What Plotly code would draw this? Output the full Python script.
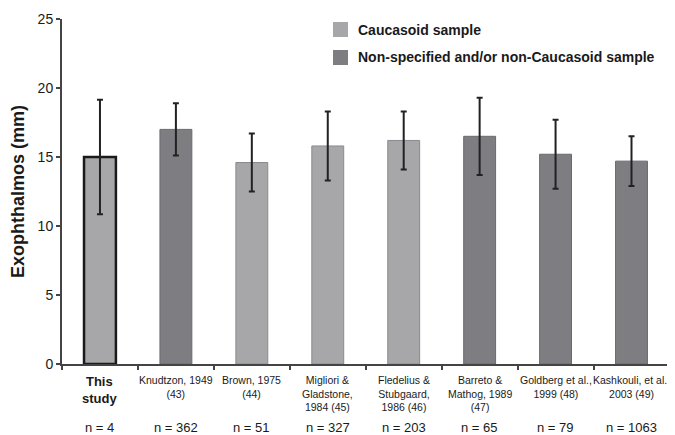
import plotly.graph_objects as go

categories = ["This study", "Knudtzon, 1949 (43)", "Brown, 1975 (44)",
              "Migliori & Gladstone, 1984 (45)", "Fledelius & Stubgaard, 1986 (46)",
              "Barreto & Mathog, 1989 (47)", "Goldberg et al., 1999 (48)",
              "Kashkouli, et al., 2003 (49)"]
tick_labels = ["<b>This<br>study</b>", "Knudtzon, 1949<br>(43)", "Brown, 1975<br>(44)",
               "Migliori &<br>Gladstone,<br>1984 (45)", "Fledelius &<br>Stubgaard,<br>1986 (46)",
               "Barreto &<br>Mathog, 1989<br>(47)", "Goldberg et al.,<br>1999 (48)",
               "Kashkouli, et al.,<br>2003 (49)"]
n_labels = ["n = 4", "n = 362", "n = 51", "n = 327", "n = 203", "n = 65", "n = 79", "n = 1063"]
means = [15.0, 17.0, 14.6, 15.8, 16.2, 16.5, 15.2, 14.7]
sds = [4.15, 1.9, 2.1, 2.5, 2.1, 2.8, 2.5, 1.8]
groups = ["Caucasoid", "Other", "Caucasoid", "Caucasoid", "Caucasoid", "Other", "Other", "Other"]
legend_labels = ["Caucasoid sample", "Non-specified and/or non-Caucasoid sample"]

LIGHT = "#a7a7aa"
DARK = "#7e7e82"
colors = [LIGHT if g == "Caucasoid" else DARK for g in groups]
line_colors = ["#1a1a1a"] + ["#8a8a8e" if g == "Caucasoid" else "#6a6a6e" for g in groups[1:]]
line_widths = [2.5] + [1] * (len(categories) - 1)

fig = go.Figure()
fig.add_trace(go.Bar(
    x=categories, y=means,
    marker=dict(color=colors, line=dict(color=line_colors, width=line_widths)),
    error_y=dict(type="data", array=sds, visible=True, color="#222222", thickness=2, width=3),
    showlegend=False,
))

FONT = "Liberation Sans, Arial, sans-serif"

# page has an 8px body margin; figure is offset by (8, 8)
OFF = 8
PL, PT, PW, PH = 62, 19, 610, 345  # plot area in page pixels

annotations = []
for i, (c, t, n) in enumerate(zip(categories, tick_labels, n_labels)):
    annotations.append(dict(
        x=c, xref="x", y=0, yref="paper", yshift=-8, yanchor="top", xanchor="center",
        text=t, showarrow=False,
        font=dict(family=FONT, size=13 if i == 0 else 10.5, color="#1a1a1a"),
    ))
    annotations.append(dict(
        x=c, xref="x", y=0, yref="paper", yshift=-63, yanchor="middle", xanchor="center",
        text=n, showarrow=False,
        font=dict(family=FONT, size=13, color="#1a1a1a"),
    ))

# legend
shapes = []
leg_y = [29.5, 57.5]
leg_cols = [LIGHT, DARK]
for lab, yy, col in zip(legend_labels, leg_y, leg_cols):
    shapes.append(dict(type="rect", xref="paper", yref="paper",
                       x0=(333 - PL) / PW, x1=(348 - PL) / PW,
                       y0=(PT + PH - yy - 7.5) / PH, y1=(PT + PH - yy + 7.5) / PH,
                       fillcolor=col, line=dict(width=0)))
    annotations.append(dict(x=(356 - PL) / PW, xref="paper", y=(PT + PH - yy) / PH, yref="paper",
                            xanchor="left", yanchor="middle", text="<b>" + lab + "</b>",
                            showarrow=False, font=dict(family=FONT, size=14, color="#1a1a1a")))

fig.update_layout(
    width=675 - OFF, height=435 - OFF,
    margin=dict(l=PL - OFF, r=675 - PL - PW, t=PT - OFF, b=435 - PT - PH, autoexpand=False),
    paper_bgcolor="white", plot_bgcolor="white",
    bargap=0.58,
    font=dict(family=FONT, color="#1a1a1a"),
    annotations=annotations, shapes=shapes,
    showlegend=False,
)
fig.update_xaxes(
    showticklabels=False, showline=True, linecolor="#444444", linewidth=2,
    ticks="outside", tickson="boundaries", ticklen=4, tickcolor="#444444", tickwidth=2,
    showgrid=False, zeroline=False,
)
fig.update_yaxes(
    range=[0, 25], dtick=5, showline=True, linecolor="#444444", linewidth=2,
    ticks="outside", ticklen=4, tickcolor="#444444", tickwidth=2,
    tickfont=dict(size=14, family=FONT, color="#1a1a1a"),
    showgrid=False, zeroline=False,
    title=dict(text="<b>Exophthalmos (mm)</b>", font=dict(size=18, family=FONT, color="#1a1a1a"), standoff=12),
)

fig.write_html("out.html")
